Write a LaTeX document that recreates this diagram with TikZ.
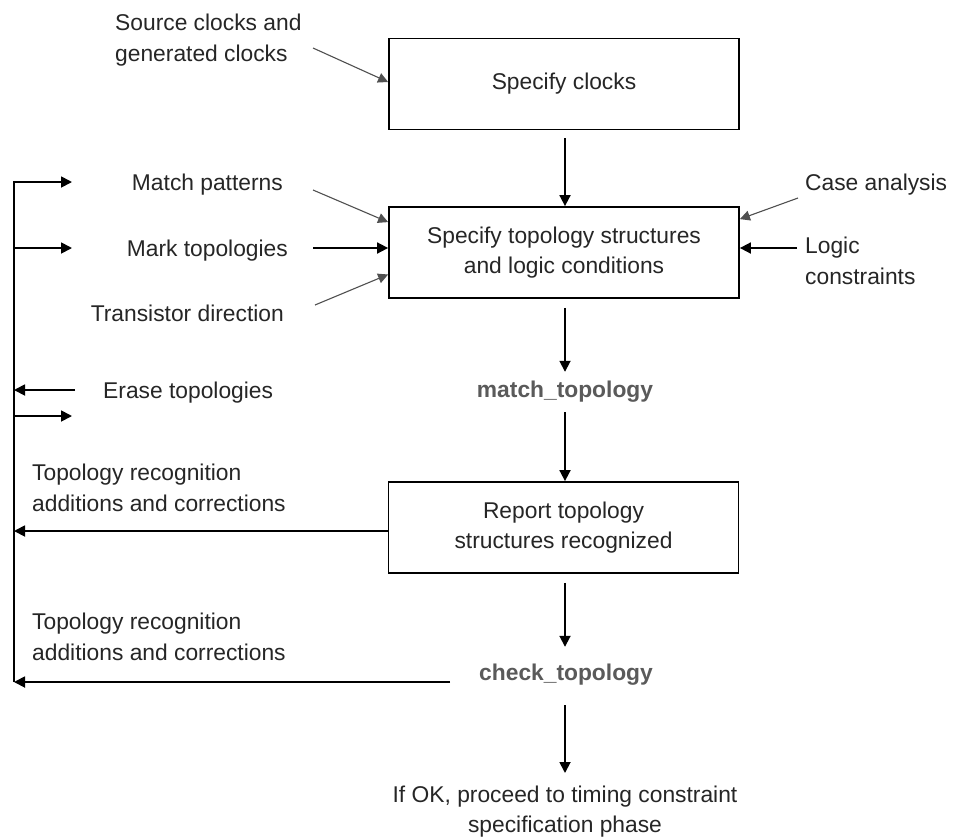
\documentclass[tikz,border=0pt]{standalone}
\usepackage{fontspec}
\setmainfont{Liberation Sans}
\usetikzlibrary{arrows.meta,calc}
\definecolor{ink}{HTML}{262626}
\definecolor{cmdgray}{HTML}{5A5A5A}
\definecolor{thinline}{HTML}{505050}

\begin{document}
\begin{tikzpicture}[x=1pt,y=-1pt,
  every node/.style={font=\fontsize{22.8}{30.5}\selectfont, text=ink, inner sep=0pt},
  stepbox/.style={draw=black, line width=1.8pt, minimum width=350pt, minimum height=91pt, align=center},
  note/.style={align=left},
  cmd/.style={font=\fontsize{22.8}{30.5}\selectfont\bfseries, text=cmdgray},
  flow/.style={line width=1.8pt, -{Triangle[length=11pt,width=11pt]}},
  feed/.style={line width=1.1pt, draw=thinline, -{Triangle[length=10pt,width=10pt]}},
]
\fill[white] (0,0) rectangle (953,836);
\useasboundingbox (0,0) rectangle (953,836);

% main flow
\node[stepbox] (clk) at (564,84) {Specify clocks};
\node[stepbox] (topo) at (564,252.5) {Specify topology structures\\and logic conditions};
\node[cmd, minimum height=40pt] (match) at (565,392) {match\_topology};
\node[stepbox] (report) at (563.5,527.5) {Report topology\\structures recognized};
\node[cmd, minimum height=56pt] (check) at (566,675) {check\_topology};
\node[align=center, anchor=north, minimum height=77pt] (final) at (565,773)
  {If OK, proceed to timing constraint\\specification phase};

% inputs (multi-line notes are placed by the baseline of their last line)
\node[note, anchor=base west] (src) at (115,61) {Source clocks and\\generated clocks};
\node[anchor=base east] (mp) at (283,190) {Match patterns};
\node[anchor=base east] (mk) at (288,256) {Mark topologies};
\node[anchor=base east] (tr) at (284,321) {Transistor direction};
\node[anchor=base west] (er) at (103,398) {Erase topologies};
\node[note, anchor=base west] (fix1) at (32,511) {Topology recognition\\additions and corrections};
\node[note, anchor=base west] (fix2) at (32,660) {Topology recognition\\additions and corrections};
\node[anchor=base west] (case) at (805,190) {Case analysis};
\node[note, anchor=base west] (logic) at (805,284) {Logic\\constraints};

% free ends of the input arrows
\coordinate (srcE) at (313,48);
\coordinate (mpE) at (313,190);
\coordinate (mkE) at (313,248);
\coordinate (trE) at (315,305);
\coordinate (caseW) at (798,198);
\coordinate (logicW) at (797,248);

\draw[feed] (srcE) -- ($(clk.west)+(0,-2)$);
\draw[feed] (mpE) -- ($(topo.north west)+(0,16)$);
\draw[flow] (mkE) -- (mkE -| topo.west);
\draw[feed] (trE) -- ($(topo.west)+(0,22)$);
\draw[feed] (caseW) -- ($(topo.north east)+(0,13)$);
\draw[flow] (logicW) -- (logicW -| topo.east);

% vertical flow
\draw[flow] ($(clk.south)+(1,8)$) -- ($(topo.north)+(1,0)$);
\draw[flow] ($(topo.south)+(1,9)$) -- (match.north);
\draw[flow] (match.south) -- ($(report.north)+(1.5,0)$);
\draw[flow] ($(report.south)+(1.5,9)$) -- ($(check.north)+(-1,0)$);
\draw[flow] ($(check.south)+(-1,2)$) -- (final.north);

% feedback bus on the left
\coordinate (busTop) at (14,182);
\coordinate (busBot) at (14,682);
\coordinate (mpIn) at (72,182);
\coordinate (mkIn) at (72,248);
\coordinate (erOut) at (75,390);
\coordinate (erIn) at (72,416);
\coordinate (rpOut) at ($(report.west)+(0,3.5)$);
\coordinate (chkOut) at (450,682);

\draw[flow] (busBot) -- (busTop) -- (mpIn);
\draw[flow] (busTop |- mkIn) -- (mkIn);
\draw[flow] (erOut) -- (busTop |- erOut);
\draw[flow] (busTop |- erIn) -- (erIn);
\draw[flow] (rpOut) -- (busTop |- rpOut);
\draw[flow] (chkOut) -- (busBot);
\end{tikzpicture}
\end{document}
